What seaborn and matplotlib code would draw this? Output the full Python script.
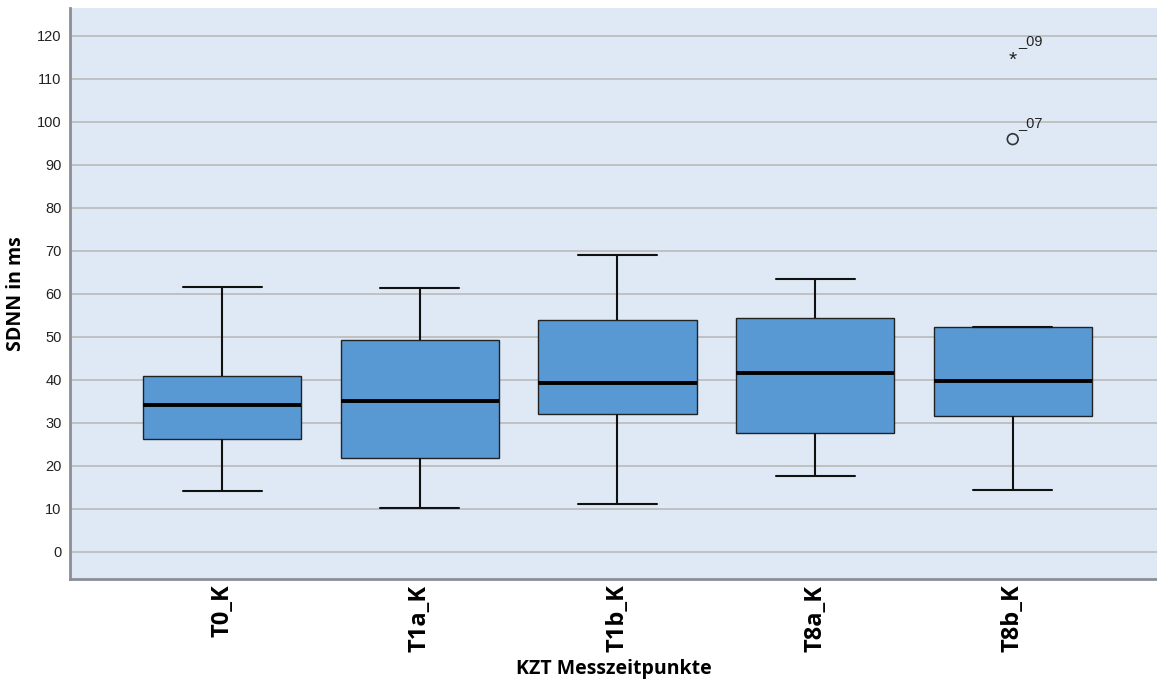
import numpy as np
import pandas as pd
import matplotlib
matplotlib.use("Agg")
import matplotlib.pyplot as plt
import seaborn as sns

# Werte (Fünf-Punkte-Zusammenfassung je Messzeitpunkt)
groups = ["T0_K", "T1a_K", "T1b_K", "T8a_K", "T8b_K"]
whisker_low = [14.2, 10.2, 11.2, 17.7, 14.4]
q1 = [26.3, 21.9, 32.1, 27.7, 31.5]
median = [34.2, 35.2, 39.2, 41.5, 39.8]
q3 = [40.8, 49.2, 53.9, 54.5, 52.4]
whisker_high = [61.6, 61.4, 69.0, 63.4, 52.4]

# Ausreißer (SPSS: o = Ausreißer, * = Extremwert)
outlier_group = ["T8b_K", "T8b_K"]
outlier_value = [96.0, 114.9]
outlier_label = ["_07", "_09"]
outlier_kind = ["o", "*"]

BOX_COLOR = "#5899D4"
BG_COLOR = "#DEE9F5"

sns.set_theme(style="white")
plt.rcParams["font.family"] = ["Liberation Sans", "DejaVu Sans"]

rows = []
for g, a, b, c, d, e in zip(groups, whisker_low, q1, median, q3, whisker_high):
    for v in (a, b, c, d, e):
        rows.append({"group": g, "value": v})
df = pd.DataFrame(rows)

fig = plt.figure(figsize=(11.57, 6.90), dpi=100)
ax = fig.add_axes([70 / 1157, 1 - 579 / 690, 1 - 70 / 1157, (579 - 8) / 690])
ax.set_facecolor(BG_COLOR)

for y in range(0, 121, 10):
    ax.axhline(y, color="#BDBDBD", linewidth=1.3, zorder=0)

sns.boxplot(data=df, x="group", y="value", order=groups, ax=ax,
            color=BOX_COLOR, width=0.8, whis=1.5, showfliers=False,
            boxprops=dict(facecolor=BOX_COLOR, edgecolor="#222222", linewidth=1.0, zorder=2),
            medianprops=dict(color="black", linewidth=2.8, zorder=3),
            whiskerprops=dict(color="#111111", linewidth=1.5),
            capprops=dict(color="#111111", linewidth=1.5),
            saturation=1)

pos = {g: i for i, g in enumerate(groups)}
for g, v, lab, kind in zip(outlier_group, outlier_value, outlier_label, outlier_kind):
    x = pos[g]
    if kind == "o":
        ax.scatter([x], [v], marker="o", s=60, facecolors="none",
                   edgecolors="#333333", linewidths=1.2, zorder=4)
    else:
        ax.text(x, v - 0.6, "*", ha="center", va="center", fontsize=15,
                color="#222222", zorder=4)
    ax.text(x + 0.03, v + 2.2, lab, ha="left", va="bottom", fontsize=10.5,
            color="#222222")

ax.set_ylim(-6.3, 126.5)
ax.set_xlim(-0.77, 4.73)
ax.set_yticks(range(0, 121, 10))
ax.tick_params(axis="y", length=0, labelsize=10.5, colors="#222222", pad=6)
ax.tick_params(axis="x", length=0, pad=4)
ax.set_xticks(range(len(groups)))
ax.set_xticklabels(groups, rotation=90, fontsize=17, fontweight="bold",
                   family=["Open Sans", "DejaVu Sans"], color="black")

ax.set_xlabel("KZT Messzeitpunkte", fontsize=14, fontweight="bold",
              family=["Open Sans", "DejaVu Sans"], labelpad=5, color="black")
ax.set_ylabel("SDNN in ms", fontsize=14, fontweight="bold",
              family=["Open Sans", "DejaVu Sans"], labelpad=8, color="black")

for side in ["top", "right"]:
    ax.spines[side].set_visible(False)
for side in ["left", "bottom"]:
    ax.spines[side].set_color("#8A8F96")
    ax.spines[side].set_linewidth(2)

fig.savefig("out.png", dpi=100)
